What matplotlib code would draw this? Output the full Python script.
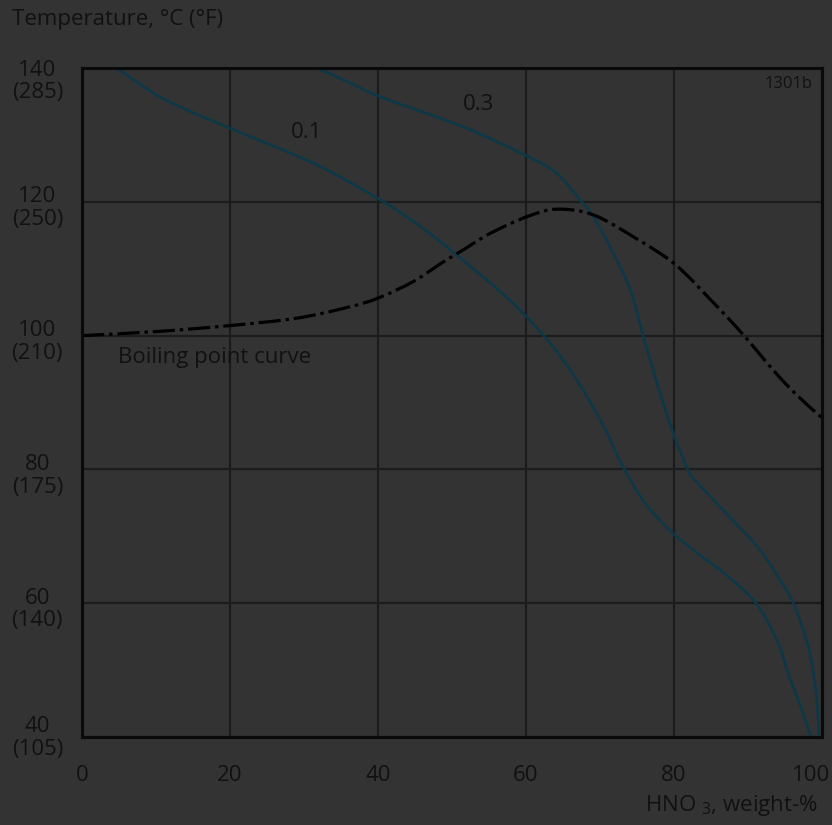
import matplotlib
matplotlib.use("Agg")
import matplotlib.pyplot as plt
import matplotlib.transforms as mtransforms
from matplotlib.path import Path
from matplotlib.patches import PathPatch

# ---- data ----
curve_01_x = [4.7, 11, 20, 31.2, 40, 45.5, 50.7, 57.8, 62.3, 65, 67.7, 70.7, 73.1, 75.8, 78.1, 79.9, 83.5, 87.1, 91.0, 93.9, 95.6, 97.3, 98.5]
curve_01_y = [140, 135.4, 131, 125.8, 120.5, 116.5, 112, 105.3, 100.1, 96.4, 91.9, 86, 80.4, 75.4, 72.4, 70.4, 67.2, 64.2, 60.1, 54.5, 49.0, 44.0, 40]

curve_03_x = [31.7, 35.8, 40.3, 51.5, 60.2, 64.1, 67.3, 69.1, 71.8, 74.1, 75.8, 77.7, 79.9, 81.9, 82.8, 87.1, 91.6, 94.3, 96.1, 97.9, 98.7, 99.3, 99.6]
curve_03_y = [140, 138, 135.7, 131.2, 126.8, 124.3, 120.3, 117.8, 112.3, 106.8, 100.1, 92.9, 85.4, 79.9, 78.4, 73.4, 68.0, 63.5, 60.1, 54.5, 50.5, 45.5, 40]

boil_x = [0, 10, 20, 29, 35.8, 40, 44.8, 48.8, 51.5, 55.2, 60.2, 64.2, 69.2, 75.2, 80.2, 85.0, 89.3, 93.6, 96.6, 100]
boil_y = [100, 100.6, 101.5, 102.6, 104.2, 105.6, 108.1, 111.0, 112.8, 115.3, 117.8, 118.9, 118.0, 114.3, 110.6, 105.3, 100.2, 94.6, 91.1, 87.7]

x_ticks = [0, 20, 40, 60, 80, 100]
y_ticks = [40, 60, 80, 100, 120, 140]
y_tick_labels = ["40\n(105)", "60\n(140)", "80\n(175)", "100\n(210)", "120\n(250)", "140\n(285)"]

# ---- style ----
BG = "#333333"
TXT = "#111111"
CURVE = "#0c3848"
GRID = "#1c1c1c"
FONT = ["Open Sans", "DejaVu Sans"]
FS = 16

plt.rcParams["font.family"] = FONT
plt.rcParams["mathtext.fontset"] = "custom"
plt.rcParams["mathtext.rm"] = "Open Sans"
plt.rcParams["mathtext.it"] = "Open Sans"
plt.rcParams["lines.scale_dashes"] = False


def smooth_path(xs, ys):
    """Cubic Bezier path (Catmull-Rom style) through the given points."""
    pts = list(zip(xs, ys))
    verts = [pts[0]]
    codes = [Path.MOVETO]
    n = len(pts)
    for i in range(n - 1):
        p0 = pts[i - 1] if i > 0 else pts[i]
        p1 = pts[i]
        p2 = pts[i + 1]
        p3 = pts[i + 2] if i + 2 < n else pts[i + 1]
        c1 = (p1[0] + (p2[0] - p0[0]) / 6, p1[1] + (p2[1] - p0[1]) / 6)
        c2 = (p2[0] - (p3[0] - p1[0]) / 6, p2[1] - (p3[1] - p1[1]) / 6)
        verts += [c1, c2, p2]
        codes += [Path.CURVE4] * 3
    return Path(verts, codes)


fig = plt.figure(figsize=(8.32, 8.25), dpi=100, facecolor=BG)
ax = fig.add_axes([82 / 832, 1 - 737 / 825, 740 / 832, 669 / 825])
ax.set_facecolor(BG)
ax.set_xlim(0, 100)
ax.set_ylim(40, 140)

ax.set_xticks(x_ticks)
ax.set_yticks(y_ticks)
ax.set_yticklabels(y_tick_labels, multialignment="center", ha="center")
ax.tick_params(length=0, labelsize=FS, colors=TXT, pad=30)
ax.tick_params(axis="x", pad=20)
for lab in ax.get_yticklabels():
    lab.set_linespacing(1.1)

for i, lab in enumerate(ax.get_yticklabels()):
    dy = -3 / 100
    if i == len(y_ticks) - 1:
        dy = -10 / 100
    if i == 0:
        dy = 2 / 100
    lab.set_transform(lab.get_transform() + mtransforms.ScaledTranslation(-0.03, dy, fig.dpi_scale_trans))
xl = ax.get_xticklabels()
xl[-1].set_transform(xl[-1].get_transform() + mtransforms.ScaledTranslation(-0.11, 0, fig.dpi_scale_trans))

ax.grid(True, color=GRID, linewidth=1.6)
ax.set_axisbelow(True)
for sp in ax.spines.values():
    sp.set_color("#0a0a0a")
    sp.set_linewidth(2.2)

ax.add_patch(PathPatch(smooth_path(curve_01_x, curve_01_y), fill=False, edgecolor=CURVE, lw=1.9, capstyle="butt"))
ax.add_patch(PathPatch(smooth_path(curve_03_x, curve_03_y), fill=False, edgecolor=CURVE, lw=1.9, capstyle="butt"))
ax.add_patch(PathPatch(smooth_path(boil_x, boil_y), fill=False, edgecolor="#000000", lw=2.3,
                       linestyle=(0, (16, 3.5, 2.5, 3.5)), capstyle="butt"))

ax.text(30.3, 130.3, "0.1", fontsize=FS, color=TXT, ha="center", va="center")
ax.text(53.6, 134.6, "0.3", fontsize=FS, color=TXT, ha="center", va="center")
ax.text(4.8, 96.8, "Boiling point curve", fontsize=FS, color=TXT, ha="left", va="center")
ax.text(98.7, 137.6, "1301b", fontsize=12, color=TXT, ha="right", va="center")

fig.text(12 / 832, 1 - 19 / 825, "Temperature, °C (°F)", fontsize=FS, color=TXT, ha="left", va="center")
fig.text(818 / 832, 1 - 805 / 825, "HNO $_{3}$, weight-%", fontsize=FS, color=TXT, ha="right", va="center")

fig.savefig("out.png", dpi=100, facecolor=BG)
